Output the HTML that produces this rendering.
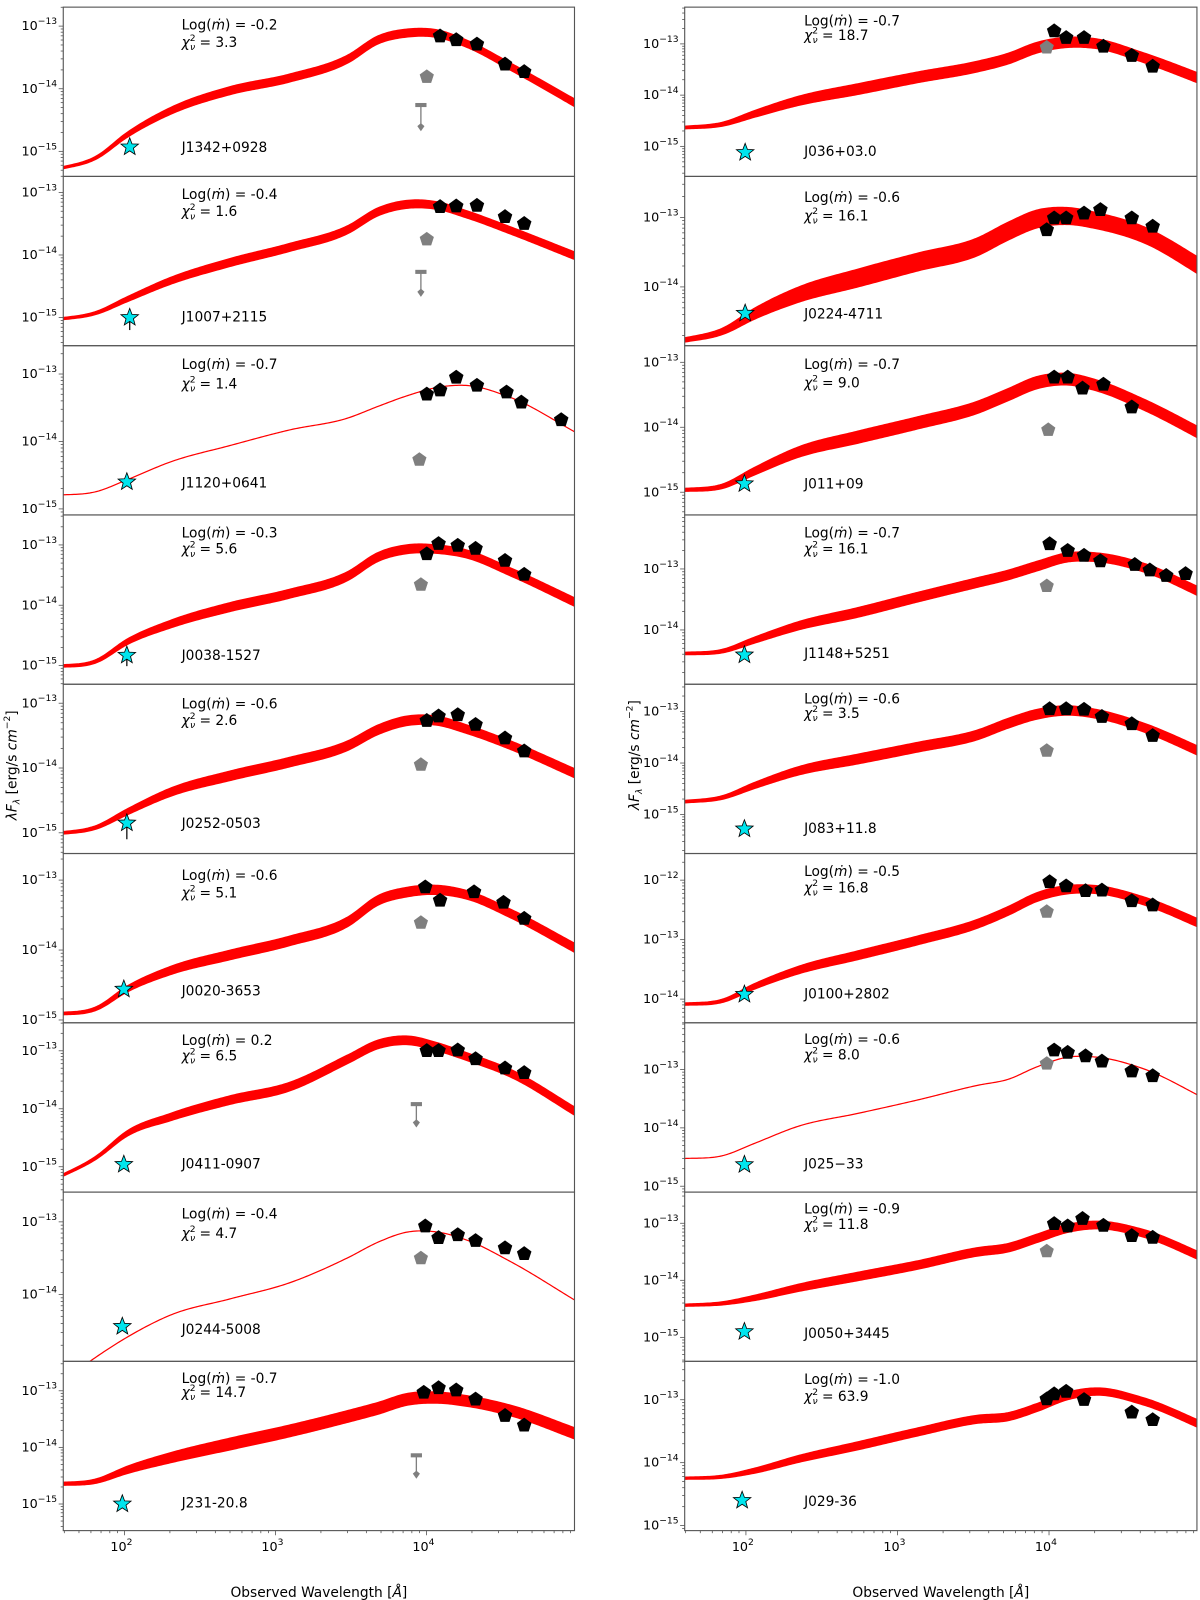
<!DOCTYPE html>
<html><head><meta charset="utf-8"><style>
html,body{margin:0;padding:0;background:#fff;}
svg{display:block;}
text{font-family:"DejaVu Sans","Liberation Sans",sans-serif;fill:#000;}
</style></head><body>
<svg id="fig" width="1200" height="1600" viewBox="0 0 1176 1568" preserveAspectRatio="none" xmlns="http://www.w3.org/2000/svg"></svg>
<script>
// ---- data ----
const nodeXL = [1.527,1.820,2.016,2.309,2.700,3.092,3.483,3.679,3.875,4.070,4.266,4.559,5.000];
const nodeXR = [1.561,1.856,2.053,2.349,2.743,3.137,3.531,3.728,3.925,4.122,4.320,4.615,5.059];
const bandShape = [0.2,0.35,0.6,0.85,1,1,1,1,1,0.95,0.9,0.9,0.95];
const names = ["J1342+0928","J1007+2115","J1120+0641","J0038-1527","J0252-0503","J0020-3653","J0411-0907","J0244-5008","J231-20.8",
               "J036+03.0","J0224-4711","J011+09","J1148+5251","J083+11.8","J0100+2802","J025\u221233","J0050+3445","J029-36"];
const mdot = ["-0.2","-0.4","-0.7","-0.3","-0.6","-0.6","0.2","-0.4","-0.7","-0.7","-0.6","-0.7","-0.7","-0.6","-0.5","-0.6","-0.9","-1.0"];
const chi2 = ["3.3","1.6","1.4","5.6","2.6","5.1","6.5","4.7","14.7","18.7","16.1","9.0","16.1","3.5","16.8","8.0","11.8","63.9"];
const modelL1 = [-15.30,-15.09,-14.74,-14.35,-14.03,-13.83,-13.52,-13.22,-13.11,-13.12,-13.28,-13.65,-14.25];
const modelL2 = [-15.04,-14.92,-14.71,-14.41,-14.12,-13.88,-13.59,-13.31,-13.19,-13.21,-13.35,-13.61,-14.03];
const modelL3 = [-14.80,-14.74,-14.57,-14.30,-14.06,-13.83,-13.65,-13.48,-13.32,-13.20,-13.17,-13.35,-13.88];
const modelL4 = [-15.02,-14.92,-14.61,-14.31,-14.03,-13.81,-13.51,-13.20,-13.07,-13.07,-13.15,-13.45,-13.97];
const modelL5 = [-15.02,-14.91,-14.68,-14.37,-14.12,-13.91,-13.65,-13.41,-13.27,-13.27,-13.40,-13.65,-14.10];
const modelL6 = [-14.92,-14.83,-14.56,-14.29,-14.07,-13.87,-13.59,-13.29,-13.17,-13.14,-13.21,-13.48,-13.99];
const modelL7 = [-15.23,-14.83,-14.43,-14.14,-13.85,-13.62,-13.14,-12.89,-12.82,-12.93,-13.10,-13.39,-14.07];
const modelL8 = [-15.30,-14.85,-14.59,-14.28,-14.06,-13.84,-13.49,-13.28,-13.14,-13.14,-13.25,-13.55,-14.10];
const modelL9 = [-14.65,-14.59,-14.40,-14.18,-13.94,-13.71,-13.45,-13.31,-13.15,-13.12,-13.18,-13.35,-13.77];
const modelR1 = [-14.64,-14.56,-14.37,-14.11,-13.88,-13.65,-13.44,-13.29,-13.07,-12.97,-13.00,-13.26,-13.75];
const modelR2 = [-14.78,-14.63,-14.39,-14.11,-13.87,-13.64,-13.42,-13.20,-13.02,-12.98,-13.05,-13.24,-13.79];
const modelR3 = [-14.97,-14.90,-14.68,-14.38,-14.15,-13.93,-13.69,-13.50,-13.31,-13.26,-13.36,-13.64,-14.17];
const modelR4 = [-14.39,-14.34,-14.17,-13.93,-13.71,-13.46,-13.22,-13.10,-12.95,-12.81,-12.81,-12.97,-13.45];
const modelR5 = [-14.76,-14.66,-14.44,-14.15,-13.92,-13.69,-13.45,-13.23,-13.05,-12.98,-13.05,-13.30,-13.86];
const modelR6 = [-14.09,-14.02,-13.79,-13.51,-13.26,-13.01,-12.73,-12.52,-12.28,-12.16,-12.16,-12.34,-12.80];
const modelR7 = [-14.53,-14.47,-14.27,-13.97,-13.75,-13.52,-13.27,-13.17,-12.95,-12.79,-12.79,-12.98,-13.54];
const modelR8 = [-14.44,-14.40,-14.31,-14.13,-13.93,-13.73,-13.50,-13.43,-13.26,-13.09,-13.03,-13.17,-13.65];
const modelR9 = [-14.25,-14.22,-14.13,-13.94,-13.73,-13.51,-13.31,-13.27,-13.12,-12.94,-12.87,-13.02,-13.46];
const models = [modelL1,modelL2,modelL3,modelL4,modelL5,modelL6,modelL7,modelL8,modelL9,modelR1,modelR2,modelR3,modelR4,modelR5,modelR6,modelR7,modelR8,modelR9];
const bandWidth = [0.12,0.12,0,0.14,0.14,0.13,0.14,0,0.2, 0.2,0.25,0.18,0.15,0.18,0.14,0,0.14,0.12];
const starX = [2.035,2.035,2.016,2.016,2.016,1.996,1.996,1.986,1.986, 1.995,1.995,1.99,1.99,1.99,1.99,1.99,1.99,1.975];
const starY = [-14.93,-15.0,-14.60,-14.83,-14.85,-14.56,-14.96,-14.44,-15.0, -15.12,-14.38,-14.87,-14.41,-15.28,-13.92,-14.63,-14.90,-14.60];
const starErr = [0,0.2,0,0.18,0.25,0,0,0,0, 0,0,0,0,0,0,0,0,0];
const photX = [
 [4.090,4.197,4.334,4.520,4.647],[4.090,4.197,4.334,4.520,4.647],[4.002,4.090,4.197,4.334,4.530,4.628,4.892],[4.002,4.080,4.207,4.325,4.520,4.647],
 [4.002,4.080,4.207,4.325,4.520,4.647],[3.992,4.090,4.315,4.510,4.647],[4.002,4.080,4.207,4.325,4.520,4.647],[3.992,4.080,4.207,4.325,4.520,4.647],
 [3.982,4.080,4.197,4.325,4.520,4.647],
 [4.034,4.113,4.231,4.359,4.546,4.684],[3.985,4.034,4.113,4.231,4.339,4.546,4.684],[4.034,4.123,4.221,4.359,4.546],[4.004,4.123,4.231,4.339,4.566,4.665,4.773,4.901],
 [4.004,4.113,4.231,4.349,4.546,4.684],[4.004,4.113,4.241,4.349,4.546,4.684],[4.034,4.123,4.241,4.349,4.546,4.684],[4.034,4.123,4.221,4.359,4.546,4.684],
 [3.985,4.034,4.113,4.231,4.546,4.684]];
const photY = [
 [-13.16,-13.22,-13.29,-13.61,-13.73],[-13.23,-13.22,-13.21,-13.39,-13.50],[-13.30,-13.24,-13.05,-13.17,-13.27,-13.42,-13.68],
 [-13.15,-12.98,-13.01,-13.06,-13.26,-13.49],[-13.27,-13.20,-13.18,-13.33,-13.54,-13.74],[-13.10,-13.29,-13.17,-13.32,-13.55],
 [-13.0,-13.0,-12.99,-13.14,-13.30,-13.38],[-13.06,-13.22,-13.18,-13.26,-13.36,-13.44],[-13.03,-12.95,-12.99,-13.15,-13.44,-13.61],
 [-12.75,-12.88,-12.88,-13.05,-13.23,-13.44],[-13.18,-13.01,-13.01,-12.94,-12.89,-13.01,-13.13],[-13.23,-13.23,-13.40,-13.34,-13.69],
 [-12.59,-12.70,-12.78,-12.87,-12.93,-13.02,-13.11,-13.08],[-12.95,-12.95,-12.96,-13.10,-13.24,-13.47],[-12.03,-12.10,-12.18,-12.17,-12.35,-12.42],
 [-12.67,-12.71,-12.77,-12.86,-13.03,-13.11],[-13.01,-13.05,-12.92,-13.04,-13.22,-13.25],[-12.99,-12.91,-12.87,-13.0,-13.20,-13.32]];
const grayX = [4.002,4.002,3.953,3.963,3.963,3.963,null,3.963, null, 3.985,null,3.995,3.985,3.985,3.985,3.985,3.985,null];
const grayY = [-13.81,-13.75,-14.27,-13.66,-13.95,-13.61,null,-13.50, null, -13.07,null,-14.04,-13.28,-13.76,-12.53,-12.90,-13.49,null];
const ulX = [3.963,3.963,null,null,null,null,3.933,null,3.933, null,null,null,null,null,null,null,null,null];
const ulTop = [-14.26,-14.27,null,null,null,null,-13.92,null,-14.14, null,null,null,null,null,null,null,null,null];
const ulTip = [-14.63,-14.62,null,null,null,null,-14.27,null,-14.50, null,null,null,null,null,null,null,null,null];
const xTickVals = [2,3,4];
// ---- layout config (not data) ----
const yTopLim = [-12.697,-12.744,-12.58,-12.503,-12.707,-12.62,-12.517,-12.59,-12.48, -12.283,-12.41,-12.744,-12.115,-12.47,-11.552,-12.2,-12.453,-12.39];
const yBotLim = [-15.40,-15.45,-15.09,-15.31,-15.32,-15.04,-15.437,-14.92,-15.47, -15.586,-14.846,-15.35,-14.89,-15.757,-14.398,-15.10,-15.42,-15.08];
const textOff = [[17,34,137],[17,34,137],[18,37,134],[17,33,137],[19,35,136],[21,38,134],[17,32,138],[21,40,134],[16,30,138],
                 [13,27,141],[20,38,134],[18,36,135],[17,33,135],[14,28,141],[17,33,137],[16,31,138],[16,31,138],[17,34,137]];
const cols = [{x0:62,x1:563,xmin:1.595,xmax:4.98,tx:178},{x0:671,x1:1173,xmin:1.596,xmax:4.976,tx:788}];
const TOP=7, PH=(1500-7)/9;

const svg=document.getElementById('fig');
const NS='http://www.w3.org/2000/svg';
function mk(tag,attrs,parent){const e=document.createElementNS(NS,tag);for(const k in attrs)e.setAttribute(k,attrs[k]);(parent||svg).appendChild(e);return e;}
function slopes(ys,xs){const n=xs.length,m=[];for(let i=0;i<n;i++){
  if(i===0)m.push((ys[1]-ys[0])/(xs[1]-xs[0]));
  else if(i===n-1)m.push((ys[n-1]-ys[n-2])/(xs[n-1]-xs[n-2]));
  else{const a=(ys[i]-ys[i-1])/(xs[i]-xs[i-1]),b=(ys[i+1]-ys[i])/(xs[i+1]-xs[i]);m.push((a*(xs[i+1]-xs[i])+b*(xs[i]-xs[i-1]))/(xs[i+1]-xs[i-1]));}}return m;}
function herm(ys,xs,ms,x){let i=0;while(i<xs.length-2&&x>xs[i+1])i++;const h=xs[i+1]-xs[i],t=(x-xs[i])/h,t2=t*t,t3=t2*t;
  return (2*t3-3*t2+1)*ys[i]+(t3-2*t2+t)*h*ms[i]+(-2*t3+3*t2)*ys[i+1]+(t3-t2)*h*ms[i+1];}
function pent(cx,cy,r){let s='';for(let k=0;k<5;k++){const a=-Math.PI/2+k*2*Math.PI/5;s+=(k?'L':'M')+(cx+r*Math.cos(a)).toFixed(2)+','+(cy+r*Math.sin(a)).toFixed(2);}return s+'Z';}
function star(cx,cy,R,r){let s='';for(let k=0;k<10;k++){const a=-Math.PI/2+k*Math.PI/5,rr=k%2?r:R;s+=(k?'L':'M')+(cx+rr*Math.cos(a)).toFixed(2)+','+(cy+rr*Math.sin(a)).toFixed(2);}return s+'Z';}
const defs=mk('defs',{});

for(let p=0;p<18;p++){
  const c=cols[p<9?0:1], row=p%9, nx=p<9?nodeXL:nodeXR;
  const top=TOP+row*PH, bot=top+PH;
  const xS=v=>c.x0+(v-c.xmin)/(c.xmax-c.xmin)*(c.x1-c.x0);
  const yS=v=>top+(yTopLim[p]-v)/(yTopLim[p]-yBotLim[p])*PH;
  const g=mk('g',{});  
  const cp=mk('clipPath',{id:'cp'+p},defs); mk('rect',{x:c.x0,y:top,width:c.x1-c.x0,height:PH},cp);
  const m=models[p], w=bandWidth[p], ms=slopes(m,nx), bs=slopes(bandShape,nx);
  const N=300; let up=[],lo=[];
  for(let i=0;i<=N;i++){const x=nx[0]+(nx[nx.length-1]-nx[0])*i/N;const v=herm(m,nx,ms,x);const hw=w/2*herm(bandShape,nx,bs,x);
    up.push(xS(x).toFixed(2)+','+yS(v+hw).toFixed(2)); lo.push(xS(x).toFixed(2)+','+yS(v-hw).toFixed(2));}
  if(w>0){
    const band=mk('path',{d:'M'+up.join('L')+'L'+lo.reverse().join('L')+'Z',fill:'#ff0000',stroke:'#ff0000','stroke-width':1.6,'clip-path':'url(#cp'+p+')'},g);
     
  } else {
    const ln=mk('path',{d:'M'+up.join('L'),fill:'none',stroke:'#ff0000','stroke-width':1.2,'clip-path':'url(#cp'+p+')'},g);
     
  }
  if(ulX[p]!==null){const ux=xS(ulX[p]),uy=yS(ulTop[p]),ut=yS(ulTip[p]);
    const ul=mk('g',{},g);  
    mk('line',{x1:ux,y1:uy,x2:ux,y2:ut,stroke:'#7f7f7f','stroke-width':1.3},ul);
    mk('rect',{x:ux-5.5,y:uy-2,width:11,height:4,fill:'#7f7f7f'},ul);
    mk('path',{d:`M${ux},${ut+3}L${ux-3.5},${ut-2}L${ux},${ut-5}L${ux+3.5},${ut-2}Z`,fill:'#7f7f7f'},ul);}
  if(grayX[p]!==null){const gp=mk('path',{d:pent(xS(grayX[p]),yS(grayY[p]),7),fill:'#7f7f7f',stroke:'#7f7f7f','stroke-width':0.5},g);
     }
  for(let i=0;i<photX[p].length;i++){const bp=mk('path',{d:pent(xS(photX[p][i]),yS(photY[p][i]),7.5),fill:'#000'},g);
     }
  const sx=xS(starX[p]),sy=yS(starY[p]);
  if(starErr[p]>0){mk('line',{x1:sx,y1:sy,x2:sx,y2:yS(starY[p]-starErr[p]),stroke:'#000','stroke-width':1.2},g);}
  const st=mk('path',{d:star(sx,sy,9,3.8),fill:'#00e5ee',stroke:'#000','stroke-width':0.8},g);
   
  const fr=mk('rect',{x:c.x0,y:top,width:c.x1-c.x0,height:PH,fill:'none',stroke:'#555','stroke-width':1.1},g);
   
  const lo10=Math.floor(yBotLim[p]), hi10=Math.ceil(yTopLim[p]);
  for(let d=lo10; d<=hi10; d++){
    for(let k=1;k<10;k++){const v=d+Math.log10(k); if(v>yTopLim[p]||v<yBotLim[p])continue; const yy=yS(v);
      mk('line',{x1:c.x0,x2:c.x0-(k===1?4.5:2.5),y1:yy,y2:yy,stroke:'#555','stroke-width':0.8},g);
      if(k===1){const t=mk('text',{x:c.x0-6,y:yy+4,'font-size':12.5,'text-anchor':'end'},g);
         
        t.textContent='10'; const s=mk('tspan',{dy:-6,'font-size':9},t); s.textContent='\u2212'+(-d);}
    }
  }
  const to=textOff[p];
  const t1=mk('text',{x:c.tx,y:top+to[0]+5,'font-size':13.5},g);  
  t1.textContent='Log('; const mm=mk('tspan',{'font-style':'italic'},t1); mm.textContent='\u1E41'; const r1=mk('tspan',{},t1); r1.textContent=') = '+mdot[p];
  const t2=mk('text',{x:c.tx,y:top+to[1]+5,'font-size':13.5},g);  
  const ch=mk('tspan',{'font-style':'italic'},t2); ch.textContent='\u03C7';
  const sp=mk('tspan',{dy:-6,'font-size':9},t2); sp.textContent='2';
  const sb=mk('tspan',{dx:-5.5,dy:9,'font-size':9,'font-style':'italic'},t2); sb.textContent='\u03BD';
  const eq=mk('tspan',{dy:-3},t2); eq.textContent=' = '+chi2[p];
  const t3=mk('text',{x:c.tx,y:top+to[2]+5,'font-size':13.5},g);  
  t3.textContent=names[p];
  if(row===8){
    for(let d=1; d<=5; d++){for(let k=1;k<10;k++){const v=d+Math.log10(k); if(v<c.xmin||v>c.xmax)continue; const xx=xS(v);
      mk('line',{x1:xx,x2:xx,y1:bot,y2:bot+(k===1?4.5:2.5),stroke:'#555','stroke-width':0.8},g);}}
    for(const v of xTickVals){const xt=mk('text',{x:xS(v)-3,y:bot+20,'font-size':12.5,'text-anchor':'middle'},g);
       
      xt.textContent='10'; const s=mk('tspan',{dy:-6,'font-size':9},xt); s.textContent=String(v);}
    const xl=mk('text',{x:(c.x0+c.x1)/2,y:1565,'font-size':13.5,'text-anchor':'middle'},g);
     
    xl.textContent='Observed Wavelength ['; const ai=mk('tspan',{'font-style':'italic'},xl); ai.textContent='\u00C5'; const cl=mk('tspan',{},xl); cl.textContent=']';
  }
}
[[16,750],[626,740]].forEach(([x,y])=>{
  const t=mk('text',{x:x,y:y,'font-size':13.5,'text-anchor':'middle',transform:`rotate(-90 ${x} ${y})`});
   
  const a=mk('tspan',{'font-style':'italic'},t); a.textContent='\u03BBF';
  const b=mk('tspan',{dy:3,'font-size':9,'font-style':'italic'},t); b.textContent='\u03BB';
  const c2=mk('tspan',{dy:-3},t); c2.textContent=' [erg/s ';
  const d=mk('tspan',{'font-style':'italic'},t); d.textContent='cm';
  const e=mk('tspan',{dy:-6,'font-size':9},t); e.textContent='\u22122';
  const f=mk('tspan',{dy:6},t); f.textContent=']';
});
</script>
</body></html>
